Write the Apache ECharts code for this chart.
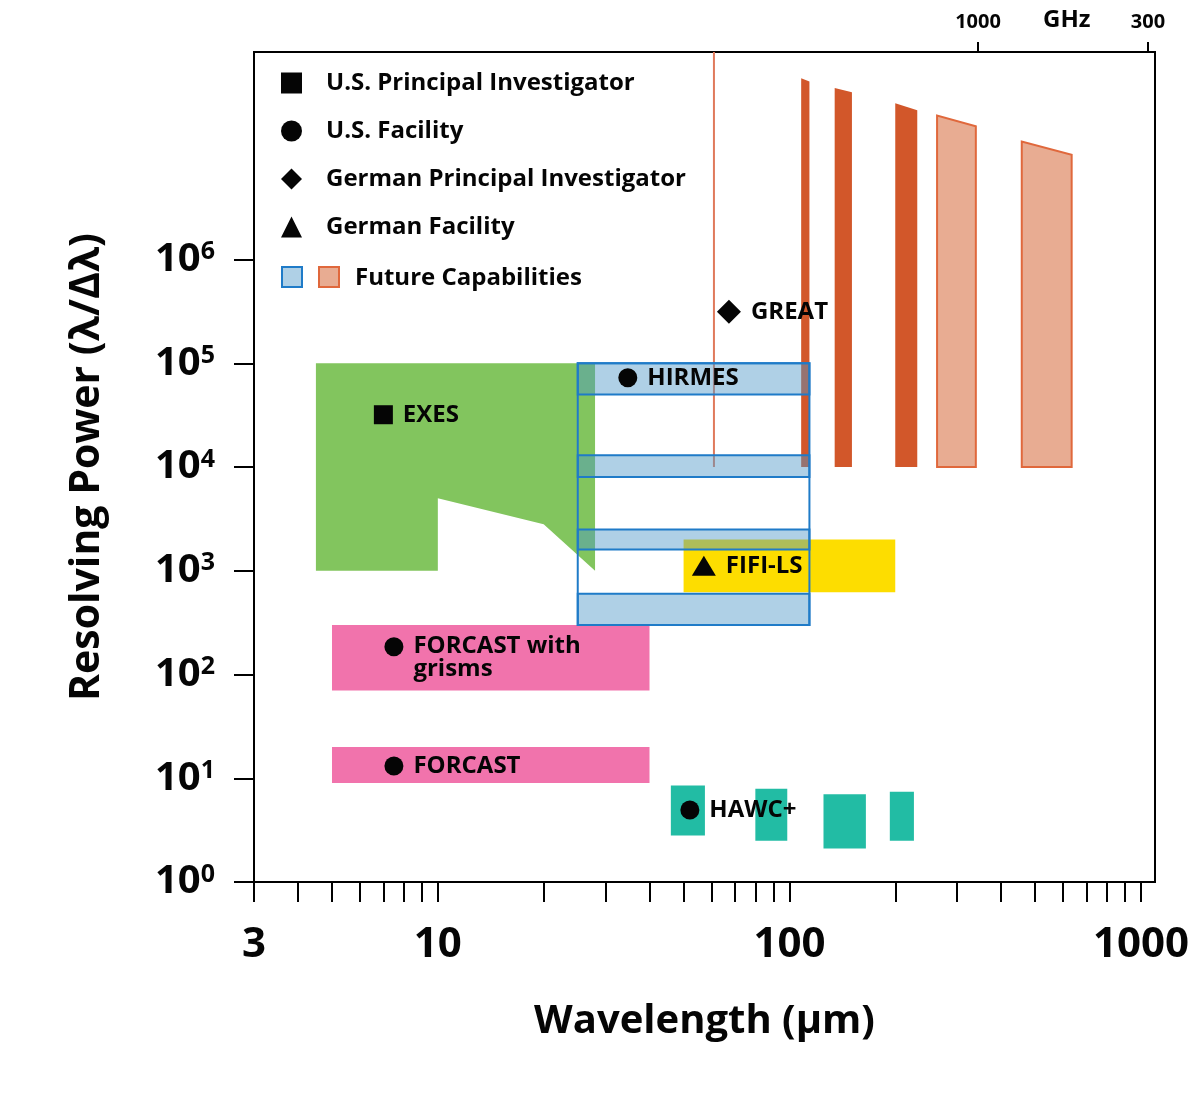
<!DOCTYPE html>
<html>
<head>
<meta charset="utf-8">
<title>Resolving power vs wavelength</title>
<script src="https://cdn.jsdelivr.net/npm/echarts@6/dist/echarts.min.js"></script>
<style>
    html, body { margin: 0; padding: 0; background: #fff; }
    #chart { width: 1192px; height: 1095px; }
</style>
</head>
<body>
<div id="chart"></div>
<script>
// ---- axes ----
var xTicks = [3, 4, 5, 6, 7, 8, 9, 10, 20, 30, 40, 50, 60, 70, 80, 90, 100,
    200, 300, 400, 500, 600, 700, 800, 900, 1000];
var xLabels = [3, 10, 100, 1000];
var yTicks = [1, 10, 100, 1000, 10000, 100000, 1000000];
var ghzTicks = [1000, 300];

// ---- coverage areas (wavelength µm, resolving power) ----
// polygon corners [x, y]
var exesShape = [[4.5, 1e5], [28, 1e5], [28, 1000], [20, 2800], [10, 5000], [10, 1000], [4.5, 1000]];
// boxes [xmin, xmax, ymin, ymax]
var forcastGrismBox = [5, 40, 70, 300];
var forcastBox = [5, 40, 9, 20];
var fifiBox = [50, 200, 620, 2000];
var hawcBoxes = [[46, 57.5, 2.8, 8.5], [80, 98.6, 2.5, 7.9], [125, 165, 2.1, 7], [193, 226, 2.5, 7.4]];
var hirmesRange = [25, 114, 300, 1e5];
var hirmesBands = [[25, 114, 5e4, 1e5], [25, 114, 8000, 13000], [25, 114, 1600, 2500], [25, 114, 300, 600]];
// GREAT: single line [x, ymin, ymax], bars [x0, x1, bottom, top at x0, top at x1]
var greatLine = [61, 1e4, 1e8];
var greatBars = [[108, 114, 1e4, 5.6e7, 5.2e7], [134.5, 150.6, 1e4, 4.5e7, 4.1e7], [200, 231, 1e4, 3.2e7, 2.75e7]];
var futureBars = [[263, 339, 1e4, 2.44e7, 1.92e7], [458, 635, 1e4, 1.37e7, 1.02e7]];

// ---- instrument markers ----
var instNames = ['EXES', 'HIRMES', 'GREAT', 'FIFI-LS', 'FORCAST with\ngrisms', 'FORCAST', 'HAWC+'];
var instWave = [7, 34.7, 67.3, 57.1, 7.5, 7.5, 52.1];
var instPower = [31900, 72500, 314000, 1115, 185, 13.1, 4.95];
var instGroup = [0, 1, 2, 3, 1, 1, 1];
var groupNames = ['U.S. Principal Investigator', 'U.S. Facility', 'German Principal Investigator', 'German Facility'];
var groupSymbols = ['rect', 'circle', 'diamond', 'triangle'];
var groupSizes = [19, 19, 24, [24, 20]];

var FONT = '"Open Sans", "Noto Sans", sans-serif';

function boxSeries(name, boxes, style, z) {
    return {
        type: 'custom', name: name, z: z, silent: true,
        data: boxes,
        encode: {x: [0, 1], y: [2, 3]},
        renderItem: function (params, api) {
            var p0 = api.coord([api.value(0), api.value(3)]);
            var p1 = api.coord([api.value(1), api.value(2)]);
            return {
                type: 'rect',
                shape: {x: p0[0], y: p0[1], width: p1[0] - p0[0], height: p1[1] - p0[1]},
                style: style
            };
        }
    };
}

function barSeries(name, bars, style, z) {
    return {
        type: 'custom', name: name, z: z, silent: true,
        data: bars,
        encode: {x: [0, 1], y: [2, 3, 4]},
        renderItem: function (params, api) {
            var x0 = api.value(0), x1 = api.value(1);
            return {
                type: 'polygon',
                shape: {points: [
                    api.coord([x0, api.value(2)]),
                    api.coord([x0, api.value(3)]),
                    api.coord([x1, api.value(4)]),
                    api.coord([x1, api.value(2)])
                ]},
                style: style
            };
        }
    };
}

var series = [
    {
        type: 'custom', name: 'EXES area', z: 1, silent: true,
        data: [0],
        renderItem: function (params, api) {
            return {
                type: 'polygon',
                shape: {points: exesShape.map(function (p) { return api.coord(p); })},
                style: {fill: '#82C55E'}
            };
        }
    },
    boxSeries('FORCAST grisms area', [forcastGrismBox], {fill: '#F173AC'}, 1),
    boxSeries('FORCAST area', [forcastBox], {fill: '#F173AC'}, 1),
    boxSeries('HAWC+ area', hawcBoxes, {fill: '#22BCA4'}, 1),
    boxSeries('FIFI-LS area', [fifiBox], {fill: '#FDDD00'}, 1),
    {
        type: 'custom', name: 'GREAT line', z: 2, silent: true,
        data: [greatLine],
        encode: {x: 0, y: [1, 2]},
        renderItem: function (params, api) {
            var a = api.coord([api.value(0), api.value(1)]);
            var b = api.coord([api.value(0), api.value(2)]);
            return {type: 'line', shape: {x1: a[0], y1: a[1], x2: b[0], y2: b[1]},
                style: {stroke: '#E07A5C', lineWidth: 2}};
        }
    },
    barSeries('GREAT bands', greatBars, {fill: '#D2572A'}, 2),
    barSeries('Future bands', futureBars, {fill: '#E8AC92', stroke: '#E0683C', lineWidth: 2}, 2),
    boxSeries('HIRMES bands', hirmesBands, {fill: 'rgba(78,151,200,0.45)', stroke: '#1F7BC8', lineWidth: 2}, 3),
    boxSeries('HIRMES outline', [hirmesRange], {fill: 'none', stroke: '#1F7BC8', lineWidth: 2}, 3)
];

groupNames.forEach(function (g, gi) {
    var data = [];
    instNames.forEach(function (n, i) {
        if (instGroup[i] !== gi) return;
        var item = {name: n, value: [instWave[i], instPower[i]]};
        if (n.indexOf('\n') >= 0) {
            item.label = {verticalAlign: 'top', offset: [0, -12]};
        }
        data.push(item);
    });
    series.push({
        type: 'scatter', name: g, z: 5,
        xAxisIndex: 0, yAxisIndex: 0,
        symbol: groupSymbols[gi],
        symbolSize: groupSizes[gi],
        itemStyle: {color: '#050505', opacity: 1},
        label: {
            show: true, position: 'right', distance: 10,
            formatter: '{b}', color: '#050505',
            fontFamily: FONT, fontWeight: 'bold', fontSize: 24, lineHeight: 23
        },
        emphasis: {disabled: true},
        data: data
    });
});

var chart = echarts.init(document.getElementById('chart'));
chart.setOption({
    backgroundColor: '#fff',
    animation: false,
    grid: {
        left: 254, right: 37, top: 52, bottom: 213,
        outerBoundsMode: 'none',
        show: true, borderColor: '#000', borderWidth: 2
    },
    legend: {
        orient: 'vertical', left: 281, top: 71, padding: 0,
        itemWidth: 21, itemHeight: 21, itemGap: 24,
        selectedMode: false,
        data: groupNames,
        textStyle: {fontFamily: FONT, fontWeight: 'bold', fontSize: 24, color: '#050505', padding: [0, 0, 0, 19]}
    },
    xAxis: [{
        type: 'log', logBase: 10, min: 3, max: 1096,
        position: 'bottom',
        name: 'Wavelength (µm)', nameLocation: 'middle', nameGap: 120,
        nameTextStyle: {fontFamily: FONT, fontWeight: 'bold', fontSize: 40, color: '#050505'},
        axisLine: {show: true, lineStyle: {color: '#000', width: 2}},
        axisTick: {show: true, inside: false, length: 20, customValues: xTicks, lineStyle: {color: '#000', width: 2}},
        axisLabel: {
            customValues: xLabels, margin: 42,
            formatter: function (v) { return String(v); },
            fontFamily: FONT, fontWeight: 'bold', fontSize: 42, color: '#050505'
        },
        splitLine: {show: false}
    }, {
        // frequency scale along the top, placed as drawn in the figure
        type: 'log', logBase: 10, inverse: true, min: 285.4, max: 168950,
        position: 'top',
        axisLine: {show: false},
        axisTick: {show: true, length: 10, customValues: ghzTicks, lineStyle: {color: '#000', width: 2}},
        axisLabel: {
            customValues: ghzTicks, margin: 20,
            formatter: function (v) { return String(v); },
            fontFamily: FONT, fontWeight: 'bold', fontSize: 20, color: '#050505'
        },
        splitLine: {show: false}
    }],
    yAxis: {
        type: 'log', logBase: 10, min: 1, max: 1e8,
        name: 'Resolving Power (λ/Δλ)', nameLocation: 'middle', nameGap: 146, nameRotate: 90,
        nameTextStyle: {fontFamily: FONT, fontWeight: 'bold', fontSize: 41, color: '#050505'},
        axisLine: {show: true, lineStyle: {color: '#000', width: 2}},
        axisTick: {show: true, length: 20, customValues: yTicks, lineStyle: {color: '#000', width: 2}},
        axisLabel: {
            customValues: yTicks, margin: 39,
            formatter: function (v) {
                return '{b|10}{s|' + Math.round(Math.log(v) / Math.LN10) + '}';
            },
            rich: {
                b: {fontFamily: FONT, fontWeight: 'bold', fontSize: 40, color: '#050505'},
                s: {fontFamily: FONT, fontWeight: 'bold', fontSize: 25, color: '#050505', verticalAlign: 'top'}
            }
        },
        splitLine: {show: false}
    },
    graphic: [
        {type: 'text', left: 1043, top: 8, style: {text: 'GHz', fontFamily: FONT, fontWeight: 'bold', fontSize: 24, fill: '#050505'}},
        {type: 'rect', shape: {x: 282, y: 267, width: 20, height: 20}, style: {fill: '#AFD0E6', stroke: '#1F7BC8', lineWidth: 2}},
        {type: 'rect', shape: {x: 319, y: 267, width: 20, height: 20}, style: {fill: '#E8AC92', stroke: '#E0683C', lineWidth: 2}},
        {type: 'text', x: 355, y: 278, style: {text: 'Future Capabilities', fontFamily: FONT, fontWeight: 'bold', fontSize: 24, fill: '#050505', verticalAlign: 'middle'}}
    ],
    series: series
});
</script>
</body>
</html>
